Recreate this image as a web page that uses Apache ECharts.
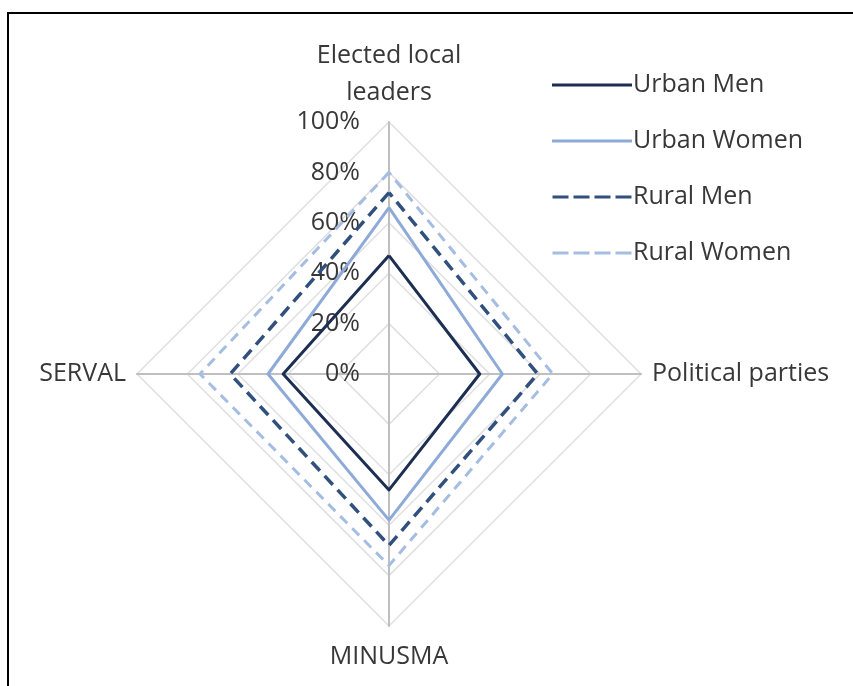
<!DOCTYPE html>
<html>
<head>
<meta charset="utf-8">
<script src="https://cdn.jsdelivr.net/npm/echarts@6/dist/echarts.min.js"></script>
<style>
  html, body { margin: 0; padding: 0; background: #fff; }
  #radarChart { width: 853px; height: 686px; }
</style>
</head>
<body>
<div id="radarChart"></div>
<script>
// categories (counter-clockwise from the top)
const indicators = ['Elected local leaders', 'SERVAL', 'MINUSMA', 'Political parties']
const tickMax = 100
const tickStep = 20

// series values, %
const urbanMen = [47, 42, 46, 36]
const urbanWomen = [66, 48, 58, 45]
const ruralMen = [72, 63, 68, 59]
const ruralWomen = [80, 75, 76, 65]

const seriesNames = ['Urban Men', 'Urban Women', 'Rural Men', 'Rural Women']

const font = '"Open Sans", "Noto Sans", sans-serif'
const fontSize = 25
const textColor = '#383838'

// legend icons: solid bar, dashed bar
const solidIcon = 'path://M0 0h80v3h-80z'
const dashIcon = 'path://M0 0h16v3h-16z M21 0h16v3h-16z M42 0h16v3h-16z M63 0h16v3h-16z'

const chart = echarts.init(document.getElementById('radarChart'))

chart.setOption({
    animation: false,
    backgroundColor: '#fff',
    graphic: [{
        type: 'rect',
        shape: { x: 8, y: 13, width: 880, height: 700 },
        style: { fill: 'none', stroke: '#000', lineWidth: 2 }
    }],
    legend: {
        orient: 'vertical',
        left: 547,
        top: 65,
        itemWidth: 80,
        itemHeight: 3,
        itemGap: 26,
        textStyle: { fontFamily: font, fontSize: fontSize, lineHeight: 30, color: textColor, padding: [0, 0, 0, -4] },
        data: [
            { name: 'Urban Men', icon: solidIcon },
            { name: 'Urban Women', icon: solidIcon },
            { name: 'Rural Men', icon: dashIcon },
            { name: 'Rural Women', icon: dashIcon }
        ]
    },
    radar: {
        center: [389, 374],
        radius: 252,
        startAngle: 90,
        shape: 'polygon',
        splitNumber: tickMax / tickStep,
        nameGap: 11,
        axisName: {
            color: textColor,
            fontFamily: font,
            fontSize: fontSize,
            formatter: (name) => {
                if (name === indicators[0]) return '{top|Elected local\nleaders}'
                if (name === indicators[2]) return '{bottom|' + name + '}'
                return name
            },
            rich: {
                top: {
                    fontFamily: font, fontSize: fontSize, color: textColor,
                    lineHeight: 37, align: 'center'
                },
                bottom: {
                    fontFamily: font, fontSize: fontSize, color: textColor,
                    padding: [7, 0, 0, 0]
                }
            }
        },
        axisLine: { lineStyle: { color: '#bfbfbf', width: 2 } },
        splitLine: { lineStyle: { color: '#e0e0e0', width: 1.5 } },
        splitArea: { show: false },
        axisLabel: { show: false },
        indicator: indicators.map((name, i) => ({
            name,
            min: 0,
            max: tickMax,
            axisLabel: i === 0 ? {
                show: true,
                color: textColor,
                fontFamily: font,
                fontSize: fontSize,
                margin: 29,
                formatter: (v) => v + '%'
            } : { show: false }
        }))
    },
    series: [{
        type: 'radar',
        symbol: 'none',
        data: [
            {
                name: seriesNames[0], value: urbanMen,
                itemStyle: { color: '#1c2f52' },
                lineStyle: { color: '#1c2f52', width: 3 }
            },
            {
                name: seriesNames[1], value: urbanWomen,
                itemStyle: { color: '#8eaad8' },
                lineStyle: { color: '#8eaad8', width: 3 }
            },
            {
                name: seriesNames[2], value: ruralMen,
                itemStyle: { color: '#30507e' },
                lineStyle: { color: '#30507e', width: 3.5, type: [12, 7] }
            },
            {
                name: seriesNames[3], value: ruralWomen,
                itemStyle: { color: '#a5bde2' },
                lineStyle: { color: '#a5bde2', width: 3, type: [10, 7] }
            }
        ]
    }]
})
</script>
</body>
</html>
